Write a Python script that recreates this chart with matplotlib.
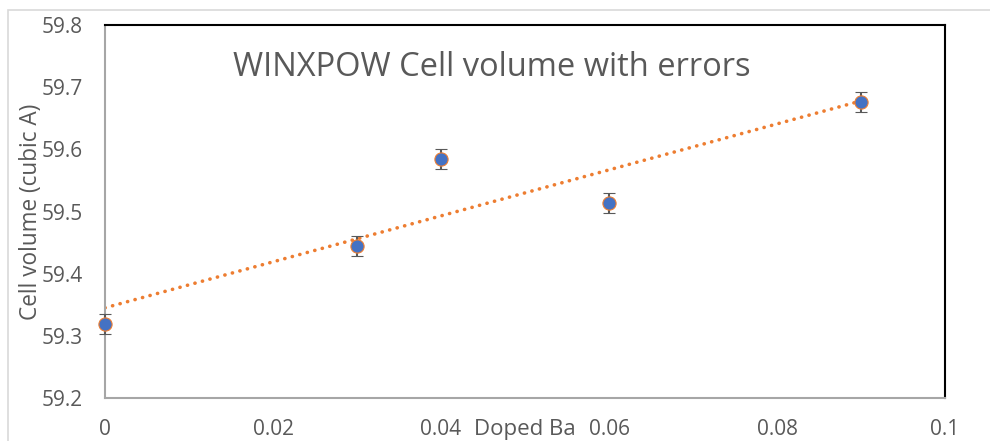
import matplotlib
matplotlib.use("Agg")
import matplotlib.pyplot as plt
from matplotlib.patches import Rectangle
from matplotlib.transforms import ScaledTranslation
import numpy as np

plt.rcParams['font.family'] = ['Open Sans', 'DejaVu Sans']

# Doped Ba fraction vs refined cell volume
doped_ba = [0.0, 0.03, 0.04, 0.06, 0.09]
cell_volume = [59.319, 59.445, 59.585, 59.514, 59.676]
volume_err = [0.016, 0.016, 0.016, 0.016, 0.016]

x_ticks = [0, 0.02, 0.04, 0.06, 0.08, 0.1]
x_tick_labels = ['0', '0.02', '0.04', '0.06', '0.08', '0.1']
y_ticks = [59.2, 59.3, 59.4, 59.5, 59.6, 59.7, 59.8]
y_tick_labels = ['59.2', '59.3', '59.4', '59.5', '59.6', '59.7', '59.8']

text_grey = '#595959'
tick_pad = 15

fig = plt.figure(figsize=(9.9, 4.41), dpi=100)
ax = fig.add_axes([0.1061, 0.0975, 0.8485, 0.8458])

# outer chart frame
fig.patches.append(Rectangle((8 / 990, -0.2), 2, 1.2 - 10 / 441,
                             transform=fig.transFigure, fill=False,
                             edgecolor='#d9d9d9', linewidth=1.2))

# linear trendline
slope, intercept = np.polyfit(doped_ba, cell_volume, 1)
xs = np.array([min(doped_ba), max(doped_ba)])
ax.plot(xs, slope * xs + intercept, color='#ED7D31', linewidth=2.6,
        linestyle=(0, (0.05, 2.1)), dash_capstyle='round', zorder=2)

ax.errorbar(doped_ba, cell_volume, yerr=volume_err, fmt='o',
            color='#4472C4', markeredgecolor='#ED7D31', markeredgewidth=0.8,
            markersize=9.5, ecolor='#595959', elinewidth=1.5, capsize=4.5,
            capthick=1.8, zorder=3, clip_on=False)

ax.set_xlim(0, 0.1)
ax.set_ylim(59.2, 59.8)
ax.set_xticks(x_ticks)
ax.set_xticklabels(x_tick_labels)
ax.set_yticks(y_ticks)
ax.set_yticklabels(y_tick_labels)
ax.tick_params(length=0, labelsize=15, colors=text_grey)
ax.tick_params(axis='x', pad=tick_pad)
ax.tick_params(axis='y', pad=16)

for side in ['left', 'bottom']:
    ax.spines[side].set_color('#a6a6a6')
    ax.spines[side].set_linewidth(1.5)
for side in ['top', 'right']:
    ax.spines[side].set_color('black')
    ax.spines[side].set_linewidth(1.5)

ax.set_ylabel('Cell volume (cubic A)', fontsize=16.3, color=text_grey)
ax.yaxis.set_label_coords(-0.074, 0.50)

# axis title sits on the tick label row, between 0.04 and 0.06
xlabel_tr = ax.get_xaxis_transform() + ScaledTranslation(0, -tick_pad / 72, fig.dpi_scale_trans)
ax.text(0.05, 0, 'Doped Ba', transform=xlabel_tr,
        ha='center', va='top', fontsize=16, color=text_grey)

ax.text(0.46, 0.885, 'WINXPOW Cell volume with errors', transform=ax.transAxes,
        ha='center', va='center', fontsize=23.5, color=text_grey)

fig.savefig('out.png', dpi=100)
